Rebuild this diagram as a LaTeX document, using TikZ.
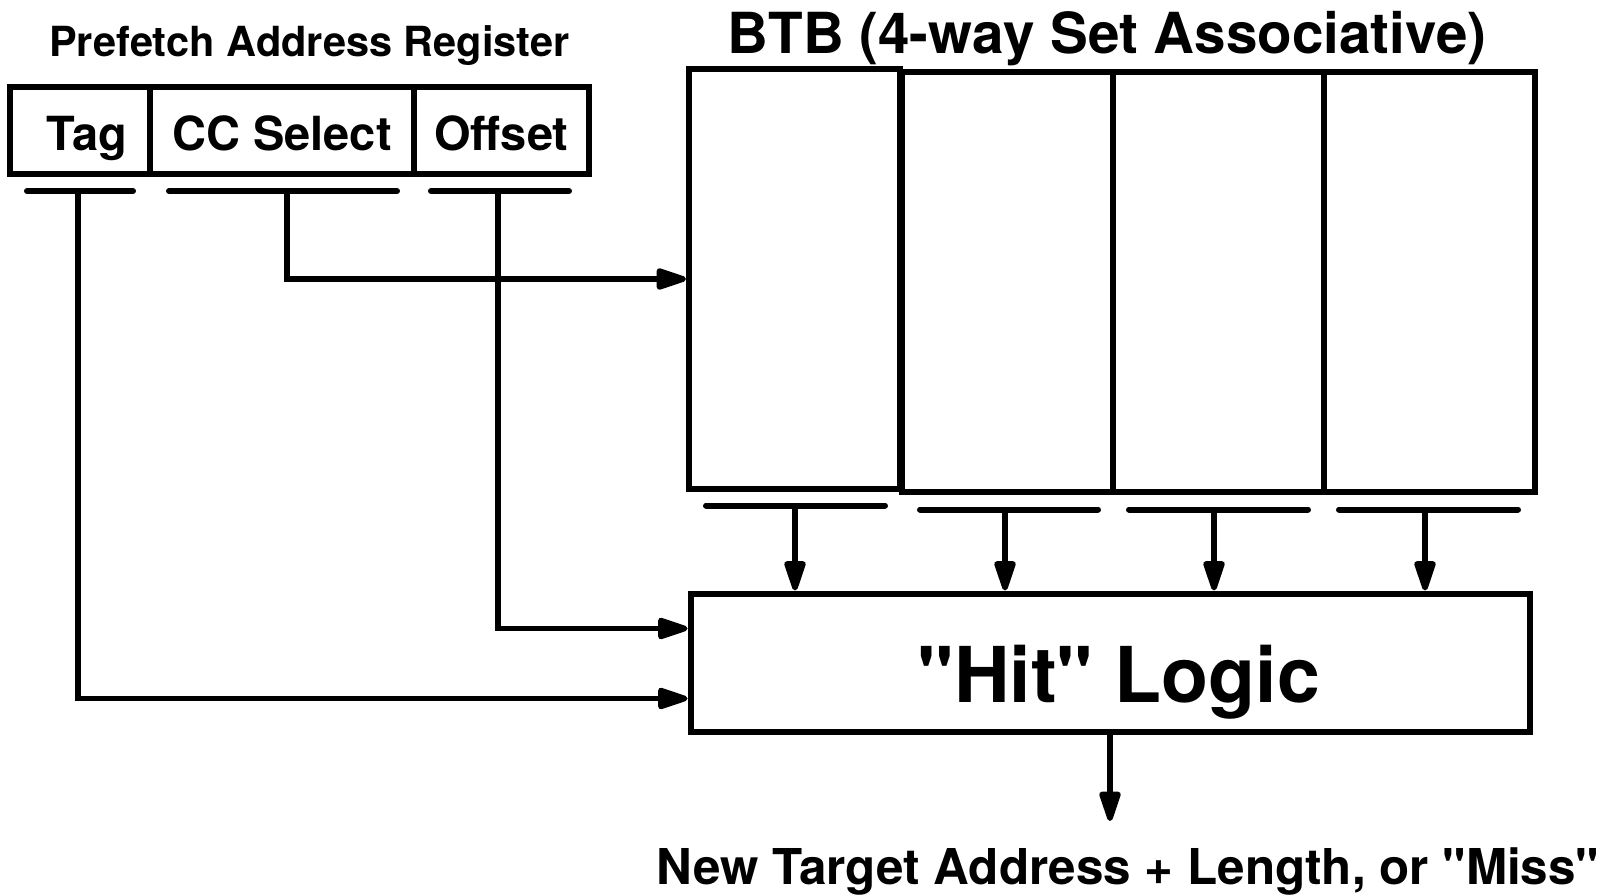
\documentclass[tikz,border=0pt]{standalone}
\usepackage{fontspec}
\setmainfont{TeX Gyre Heros}[Ligatures=TeXOff]
\usetikzlibrary{arrows.meta}

\newcommand{\cellfont}{\fontsize{47}{56}\selectfont\bfseries}
\newcommand{\partitlefont}{\fontsize{41.5}{48}\selectfont\bfseries}
\newcommand{\btbtitlefont}{\fontsize{56.6}{64}\selectfont\bfseries}
\newcommand{\hitfont}{\fontsize{77}{88}\selectfont\bfseries}
\newcommand{\outfont}{\fontsize{49.4}{56}\selectfont\bfseries}

\tikzset{
    field/.style={draw, line width=6pt, minimum height=87pt, inner sep=0pt, text height=40pt, text depth=0pt, font=\cellfont},
    way/.style={draw, line width=6pt, minimum width=211pt, minimum height=420pt, inner sep=0pt},
    bar/.style={line width=6pt, line cap=round},
    conn/.style={line width=5.5pt, -{Triangle[length=36pt,width=22pt,round]}},
}

\begin{document}
\begin{tikzpicture}[x=1pt,y=-1pt]
    \useasboundingbox (0,0) rectangle (1604,896);
    % prefetch address register
    \node[font=\partitlefont] (partitle) at (309.5,46) {Prefetch Address Register};
    \node[field, minimum width=140pt] (tag) at (80,130.5) {\hspace*{14pt}Tag};
    \node[field, minimum width=264pt] (ccsel) at (282,130.5) {CC Select};
    \node[field, minimum width=175pt] (offset) at (501.5,130.5) {Offset};
    \draw[bar] (27,191) -- (133,191);
    \draw[bar] (169,191) -- (397,191);
    \draw[bar] (431,191) -- (569,191);
    \coordinate (tagtap) at (78,191);
    \coordinate (cctap) at (287,191);
    \coordinate (offtap) at (498,191);

    % BTB ways
    \node[font=\btbtitlefont] (btbtitle) at (1107,39) {BTB (4-way Set Associative)};
    \node[way] (wayA) at (794.5,279) {};
    \node[way] (wayB) at (1007.5,282) {};
    \node[way] (wayC) at (1218.5,282) {};
    \node[way] (wayD) at (1429.5,282) {};
    \draw[bar] (706,505.5) -- (885,505.5);
    \draw[bar] (920,509.5) -- (1098,509.5);
    \draw[bar] (1129,509.5) -- (1308,509.5);
    \draw[bar] (1339,509.5) -- (1518,509.5);
    \coordinate (tapA) at (795,505.5);
    \coordinate (tapB) at (1005,509.5);
    \coordinate (tapC) at (1214,509.5);
    \coordinate (tapD) at (1425,509.5);

    % hit logic
    \node[draw, line width=6pt, minimum width=839pt, minimum height=138pt, inner sep=0pt] (hit) at (1110,662.5) {};
    \node[font=\hitfont] (hitlabel) at (1119,682) {"Hit" Logic};
    \node[font=\outfont] (target) at (1128,871) {New Target Address + Length, or "Miss"};
    \coordinate (outtip) at (1110,821);

    \draw[conn] (cctap) |- (wayA.west);
    \draw[conn] (offtap) |- ([yshift=34pt]hit.west);
    \draw[conn] (tagtap) |- ([yshift=-36pt]hit.west);
    \draw[conn] (tapA) -- (tapA |- hit.north);
    \draw[conn] (tapB) -- (tapB |- hit.north);
    \draw[conn] (tapC) -- (tapC |- hit.north);
    \draw[conn] (tapD) -- (tapD |- hit.north);
    \draw[conn] (hit.south) -- (outtip);
\end{tikzpicture}
\end{document}
